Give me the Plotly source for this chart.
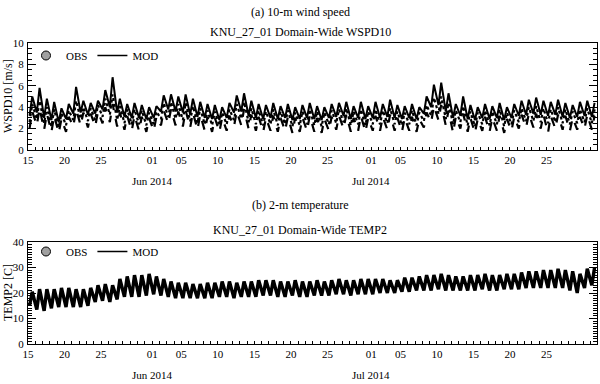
import datetime as dt
import plotly.graph_objects as go

start_day = dt.date(2014, 5, 15)
n_days = 78

# ---- 10-m wind speed: daily maxima / minima (m/s) ----
ws_solid_max = [5.0, 5.8, 4.8, 4.5, 3.9, 4.3, 5.9, 4.6, 4.4, 4.6, 5.6, 6.8, 4.8, 4.3, 4.4, 4.2, 4.0,
                4.1, 5.1, 5.2, 5.0, 5.2, 4.8, 4.5, 4.3, 4.2, 4.0, 4.4, 5.1, 5.3, 4.6, 4.3, 4.2, 4.4, 4.1, 4.3, 4.0, 4.2, 4.4, 4.1, 4.0, 4.3, 4.4, 4.5, 4.1, 4.5, 4.1,
                4.5, 4.3, 4.7, 4.2, 4.1, 4.3, 4.0, 5.0, 6.1, 6.3, 5.3, 4.3, 5.0, 4.2, 4.0, 4.3, 4.1, 4.4, 4.0, 4.3, 4.6, 4.7, 4.9, 4.6, 4.5, 4.7, 4.4, 4.2, 4.5, 4.6, 4.4]
ws_solid_min = [3.2, 3.5, 3.0, 2.8, 2.6, 2.9, 3.4, 3.5, 3.3, 3.4, 3.8, 4.0, 3.5, 3.1, 3.0, 3.0, 2.9,
                3.0, 3.6, 3.8, 3.6, 3.5, 3.3, 3.1, 3.0, 2.9, 2.8, 3.0, 3.5, 3.6, 3.2, 3.0, 2.9, 3.0, 2.9, 3.0, 2.8, 2.9, 3.0, 2.9, 2.8, 3.0, 3.1, 3.2, 2.9, 3.0, 2.9,
                3.0, 3.0, 3.1, 3.0, 2.9, 3.0, 2.9, 3.4, 4.0, 4.2, 3.6, 3.0, 3.2, 2.9, 2.8, 3.0, 2.9, 3.0, 2.8, 3.0, 3.2, 3.3, 3.4, 3.3, 3.2, 3.3, 3.1, 3.0, 3.1, 3.2, 3.1]
ws_dot_max = [4.3, 4.6, 4.0, 3.8, 3.4, 3.7, 4.6, 4.0, 3.9, 4.2, 4.8, 5.2, 4.1, 3.8, 3.8, 3.7, 3.5,
              3.6, 4.4, 4.5, 4.3, 4.4, 4.1, 3.9, 3.7, 3.6, 3.5, 3.8, 4.3, 4.5, 3.9, 3.7, 3.6, 3.8, 3.6, 3.7, 3.5, 3.6, 3.8, 3.6, 3.5, 3.7, 3.8, 3.9, 3.6, 3.8, 3.6,
              3.8, 3.7, 3.9, 3.6, 3.5, 3.7, 3.5, 4.2, 4.9, 5.0, 4.4, 3.7, 4.1, 3.6, 3.5, 3.7, 3.6, 3.8, 3.5, 3.7, 3.9, 4.0, 4.1, 3.9, 3.8, 4.0, 3.8, 3.6, 3.8, 3.9, 3.8]
ws_dot_min = [2.6, 2.9, 2.5, 2.2, 2.1, 2.3, 2.8, 2.9, 2.7, 2.8, 3.1, 3.3, 2.8, 2.5, 2.4, 2.4, 2.3,
              2.4, 2.9, 3.1, 2.9, 2.8, 2.7, 2.5, 2.4, 2.3, 2.3, 2.4, 2.8, 2.9, 2.6, 2.4, 2.3, 2.4, 2.3, 2.4, 2.2, 2.3, 2.4, 2.3, 2.2, 2.4, 2.5, 2.6, 2.3, 2.4, 2.3,
              2.4, 2.4, 2.5, 2.4, 2.3, 2.4, 2.3, 2.7, 3.2, 3.4, 2.9, 2.4, 2.6, 2.3, 2.2, 2.4, 2.3, 2.4, 2.2, 2.4, 2.6, 2.7, 2.7, 2.6, 2.5, 2.6, 2.5, 2.4, 2.5, 2.6, 2.5]
ws_dash_max = [3.6, 3.9, 3.4, 3.2, 2.9, 3.1, 3.8, 3.5, 3.4, 3.6, 4.0, 4.3, 3.5, 3.2, 3.2, 3.1, 3.0,
               3.1, 3.7, 3.8, 3.6, 3.7, 3.5, 3.3, 3.1, 3.0, 3.0, 3.2, 3.6, 3.8, 3.3, 3.1, 3.0, 3.2, 3.0, 3.1, 3.0, 3.0, 3.2, 3.0, 2.9, 3.1, 3.2, 3.3, 3.0, 3.2, 3.0,
               3.2, 3.1, 3.3, 3.0, 3.0, 3.1, 2.9, 3.5, 4.1, 4.2, 3.7, 3.1, 3.4, 3.0, 2.9, 3.1, 3.0, 3.2, 2.9, 3.1, 3.3, 3.4, 3.4, 3.3, 3.2, 3.3, 3.2, 3.0, 3.1, 3.3, 3.2]
ws_dash_min = [2.0, 2.3, 1.9, 1.7, 1.6, 1.7, 2.2, 2.3, 2.1, 2.2, 2.5, 2.6, 2.2, 1.9, 1.8, 1.8, 1.7,
               1.8, 2.3, 2.5, 2.3, 2.2, 2.1, 1.9, 1.8, 1.7, 1.7, 1.8, 2.2, 2.3, 2.0, 1.8, 1.7, 1.8, 1.7, 1.8, 1.6, 1.7, 1.8, 1.7, 1.6, 1.8, 1.9, 2.0, 1.7, 1.8, 1.7,
               1.8, 1.8, 1.9, 1.8, 1.7, 1.8, 1.7, 2.1, 2.6, 2.8, 2.3, 1.6, 2.0, 1.7, 1.6, 1.8, 1.7, 1.8, 1.6, 1.8, 2.0, 2.1, 2.1, 2.0, 1.6, 2.0, 1.9, 1.8, 1.9, 2.0, 1.9]

# ---- 2-m temperature: daily maxima / minima (C) ----
t2_max = [20.5, 21.5, 21.5, 21.5, 22, 22, 21.5, 21.5, 22, 23, 23.5, 23, 25.5, 26.5, 27, 27, 27.5,
          26.5, 25.5, 24.5, 24, 24, 23.5, 23.5, 24, 24, 24.5, 24.5, 24, 24.5, 24.5, 25, 25, 25, 24.5, 24.5, 25, 24.5, 24.5, 25, 24.5, 25, 25.5, 25, 25, 25.5, 25.5,
          25.5, 25.5, 25, 25, 26, 26, 26.5, 27, 27, 27.5, 27, 26.5, 26.5, 27, 27, 27.5, 27, 27, 27.5, 27.5, 28, 28.5, 28.5, 29, 29, 29.5, 29, 28.5, 27.5, 29.5, 30]
t2_min = [15, 13.5, 13, 14, 14.5, 14.5, 14.5, 14.5, 15, 16.5, 17, 16.5, 17.5, 18.5, 18.5, 18.5, 19,
          19.5, 19, 18.5, 18, 18, 18, 18, 18, 18, 18.5, 18.5, 18, 18.5, 18.5, 18.5, 19, 19, 18.5, 18.5, 19, 18.5, 18.5, 19, 19, 19, 19.5, 19.5, 19, 19.5, 19.5,
          19.5, 20, 20, 20, 20.5, 20.5, 21, 21, 21, 21.5, 21, 21, 21, 21, 21, 21.5, 21, 21, 21.5, 21.5, 21.5, 22, 22, 22, 22, 22, 22, 21, 20, 22, 23]

tick_dates = ["2014-05-15", "2014-05-20", "2014-05-25", "2014-06-01", "2014-06-05", "2014-06-10",
              "2014-06-15", "2014-06-20", "2014-06-25", "2014-07-01", "2014-07-05", "2014-07-10",
              "2014-07-15", "2014-07-20", "2014-07-25"]
tick_text = ["15", "20", "25", "01", "05", "10", "15", "20", "25", "01", "05", "10", "15", "20", "25"]
month_dates = ["2014-06-01", "2014-07-01"]
month_labels = ["Jun 2014", "Jul 2014"]


def series(mins, maxs):
    xs, ys = [], []
    for i in range(n_days):
        d = dt.datetime.combine(start_day + dt.timedelta(days=i), dt.time(0))
        xs += [d + dt.timedelta(hours=5), d + dt.timedelta(hours=14)]
        ys += [mins[i], maxs[i]]
    return xs, ys


FONT = "Times New Roman, Liberation Serif, DejaVu Serif, serif"
fig = go.Figure()

# wind panel
for mn, mx, dash, w in [(ws_dash_min, ws_dash_max, "dash", 2.2),
                        (ws_dot_min, ws_dot_max, "dot", 2.2),
                        (ws_solid_min, ws_solid_max, "solid", 2.0)]:
    xs, ys = series(mn, mx)
    fig.add_trace(go.Scatter(x=xs, y=ys, mode="lines", line=dict(color="black", width=w, dash=dash),
                             xaxis="x", yaxis="y", showlegend=False))
fig.add_trace(go.Scatter(x=[None], y=[None], mode="markers", name="OBS",
                         marker=dict(color="#a0a0a0", size=9, line=dict(color="black", width=1)),
                         xaxis="x", yaxis="y", legend="legend"))
fig.add_trace(go.Scatter(x=[None], y=[None], mode="lines", name="MOD",
                         line=dict(color="black", width=1.5), xaxis="x", yaxis="y", legend="legend"))

# temperature panel
xs, ys = series(t2_min, t2_max)
fig.add_trace(go.Scatter(x=xs, y=ys, mode="lines", line=dict(color="black", width=3.4),
                         xaxis="x2", yaxis="y2", showlegend=False))
fig.add_trace(go.Scatter(x=[None], y=[None], mode="markers", name="OBS",
                         marker=dict(color="#a0a0a0", size=9, line=dict(color="black", width=1)),
                         xaxis="x2", yaxis="y2", legend="legend2"))
fig.add_trace(go.Scatter(x=[None], y=[None], mode="lines", name="MOD",
                         line=dict(color="black", width=1.5), xaxis="x2", yaxis="y2", legend="legend2"))

xrange = ["2014-05-15 00:00", "2014-07-31 22:00"]
xdom = [28 / 600, 597 / 600]
common_x = dict(range=xrange, tickmode="array", tickvals=tick_dates, ticktext=tick_text,
                ticks="inside", ticklen=3, tickcolor="black", showline=True, linecolor="black",
                linewidth=1, mirror=True, showgrid=False, zeroline=False, automargin=False,
                tickfont=dict(family=FONT, size=11, color="black"),
                minor=dict(ticks="inside", ticklen=3, tickcolor="black", dtick=86400000,
                           tick0="2014-05-15", showgrid=False))

ya_dom = [1 - 150 / 384, 1 - 43 / 384]
yb_dom = [1 - 344 / 384, 1 - 242 / 384]

common_y = dict(ticks="inside", ticklen=8, tickcolor="black", showline=True, linecolor="black",
                linewidth=1, mirror="allticks", showgrid=False, zeroline=False, automargin=False,
                ticklabelstandoff=1, tickfont=dict(family=FONT, size=11, color="black"))

leg = dict(xanchor="left", yanchor="top", orientation="h", bgcolor="rgba(0,0,0,0)",
           font=dict(family=FONT, size=11, color="black"), itemwidth=30, tracegroupgap=0)

fig.update_layout(
    width=600, height=384, margin=dict(l=0, r=0, t=0, b=0, autoexpand=False),
    paper_bgcolor="white", plot_bgcolor="white",
    font=dict(family=FONT, size=11, color="black"),
    xaxis=dict(domain=xdom, anchor="y", **common_x),
    xaxis2=dict(domain=xdom, anchor="y2", **common_x),
    xaxis3=dict(domain=xdom, anchor="y", overlaying="x", range=xrange, tickmode="array",
                tickvals=month_dates, ticktext=["", ""], ticks="inside", ticklen=7, automargin=False,
                tickcolor="black", showgrid=False, showline=False, zeroline=False),
    xaxis4=dict(domain=xdom, anchor="y2", overlaying="x2", range=xrange, tickmode="array",
                tickvals=month_dates, ticktext=["", ""], ticks="inside", ticklen=7, automargin=False,
                tickcolor="black", showgrid=False, showline=False, zeroline=False),
    yaxis=dict(domain=ya_dom, anchor="x", range=[0, 10], dtick=2, **common_y,
               minor=dict(ticks="inside", ticklen=4, tickcolor="black", dtick=0.5, showgrid=False)),
    yaxis2=dict(domain=yb_dom, anchor="x2", range=[0, 40], dtick=10, **common_y,
                minor=dict(ticks="inside", ticklen=4, tickcolor="black", dtick=1, showgrid=False)),
    legend=dict(x=26 / 600, y=1 - 41 / 384, **leg),
    legend2=dict(x=26 / 600, y=1 - 237 / 384, **leg),
)

# x-axis month labels (positioned at the month start dates)
for d, lab in zip(month_dates, month_labels):
    fig.add_annotation(x=d, y=1 - 181 / 384, xref="x", yref="paper", text=lab, showarrow=False,
                       xanchor="center", yanchor="middle",
                       font=dict(family=FONT, size=11, color="black"))
    fig.add_annotation(x=d, y=1 - 375 / 384, xref="x2", yref="paper", text=lab, showarrow=False,
                       xanchor="center", yanchor="middle",
                       font=dict(family=FONT, size=11, color="black"))

titles = [("(a) 10-m wind speed", 12), ("KNU_27_01 Domain-Wide WSPD10", 32),
          ("(b) 2-m temperature", 205), ("KNU_27_01 Domain-Wide TEMP2", 230)]
for txt, ypx in titles:
    fig.add_annotation(x=0.5, y=1 - ypx / 384, xref="paper", yref="paper", text=txt,
                       xanchor="center", yanchor="middle",
                       showarrow=False, font=dict(family=FONT, size=12, color="black"))

for txt, ypx in [("WSPD10 [m/s]", 96), ("TEMP2 [C]", 293)]:
    fig.add_annotation(x=8 / 600, y=1 - ypx / 384, xref="paper", yref="paper", text=txt,
                       xanchor="center", yanchor="middle",
                       textangle=-90, showarrow=False, font=dict(family=FONT, size=12, color="black"))

fig.write_html("out.html", config={"displayModeBar": False},
               post_script="document.body.style.margin='0';")
